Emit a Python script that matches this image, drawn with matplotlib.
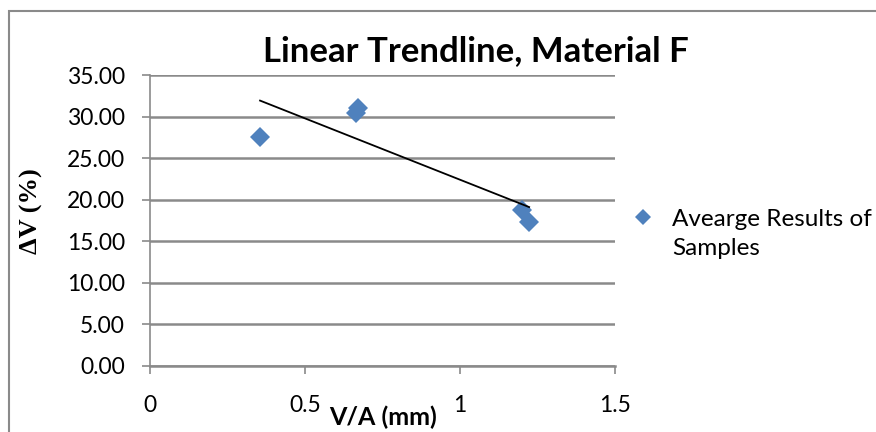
import numpy as np
import matplotlib.pyplot as plt
from matplotlib.patches import Rectangle

# averaged sample results
va_mm = [0.355, 0.665, 0.671, 1.200, 1.223]
dv_pct = [27.6, 30.4, 31.0, 18.8, 17.3]
yticks = np.arange(0, 35.01, 5)
xticks = [0, 0.5, 1, 1.5]

blue = '#4F81BD'
grid_gray = '#8A8A8A'

fig = plt.figure(figsize=(8.76, 4.32), dpi=100)
# outer chart frame (only left and top edges visible in the crop)
fig.patches.append(Rectangle((9 / 876, -0.1), 1.2, 1 - 11 / 432 + 0.1,
                             transform=fig.transFigure, fill=False,
                             edgecolor=grid_gray, linewidth=1.5))
ax = fig.add_axes([150 / 876, 1 - 366 / 432, 465 / 876, 291 / 432])

ax.plot(va_mm, dv_pct, 'D', color=blue, markersize=10.5, markeredgewidth=0,
        label='Avearge Results of\nSamples', zorder=3)

# linear trendline
k, b = np.polyfit(va_mm, dv_pct, 1)
xs = np.array([min(va_mm), max(va_mm)])
ax.plot(xs, k * xs + b, color='black', linewidth=1.3, zorder=4)

ax.set_xlim(0, 1.5)
ax.set_ylim(0, 35)
ax.set_xticks(xticks)
ax.set_xticklabels(['0', '0.5', '1', '1.5'])
ax.set_yticks(yticks)
ax.set_yticklabels(['%.2f' % v for v in yticks])
ax.yaxis.grid(True, color=grid_gray, linewidth=1.8)
ax.set_axisbelow(True)
for s in ['top', 'right']:
    ax.spines[s].set_visible(False)
ax.spines['left'].set_color(grid_gray)
ax.spines['bottom'].set_color(grid_gray)
ax.spines['left'].set_linewidth(1.2)
ax.spines['bottom'].set_linewidth(1.8)
ax.tick_params(axis='both', colors=grid_gray, length=6, width=1.2,
               labelcolor='black', labelsize=16.5)
ax.tick_params(axis='x', pad=15)
ax.tick_params(axis='y', pad=12)
for lab in ax.get_xticklabels() + ax.get_yticklabels():
    lab.set_family('Lato')

ax.set_title('Linear Trendline, Material F', fontsize=25, fontweight='bold',
             family='Lato', x=0.70, pad=10)
ax.set_xlabel('V/A (mm)', fontsize=18, fontweight='bold', family='Lato')
ax.xaxis.label.set_va('baseline')
ax.xaxis.set_label_coords(0.501, (366 - 425) / 291)
ax.set_ylabel('ΔV (%)', fontsize=19, fontweight='bold',
              family='Liberation Serif')
ax.yaxis.label.set_va('center')
ax.yaxis.set_label_coords(-0.256, 0.533)

leg = ax.legend(loc='center left', bbox_to_anchor=(631 / 876, 1 - 234 / 432),
                bbox_transform=fig.transFigure, frameon=False,
                borderpad=0, borderaxespad=0,
                prop={'family': 'Lato', 'size': 17.5}, markerscale=0.75,
                handlelength=1.0, handletextpad=0.69)
leg.get_texts()[0].set_linespacing(1.5)
# Excel puts the legend marker level with the first text line
h = leg.legend_handles[0]
h.set_ydata(np.asarray(h.get_ydata()) + 12.5)

fig.savefig('out.png', dpi=100)
